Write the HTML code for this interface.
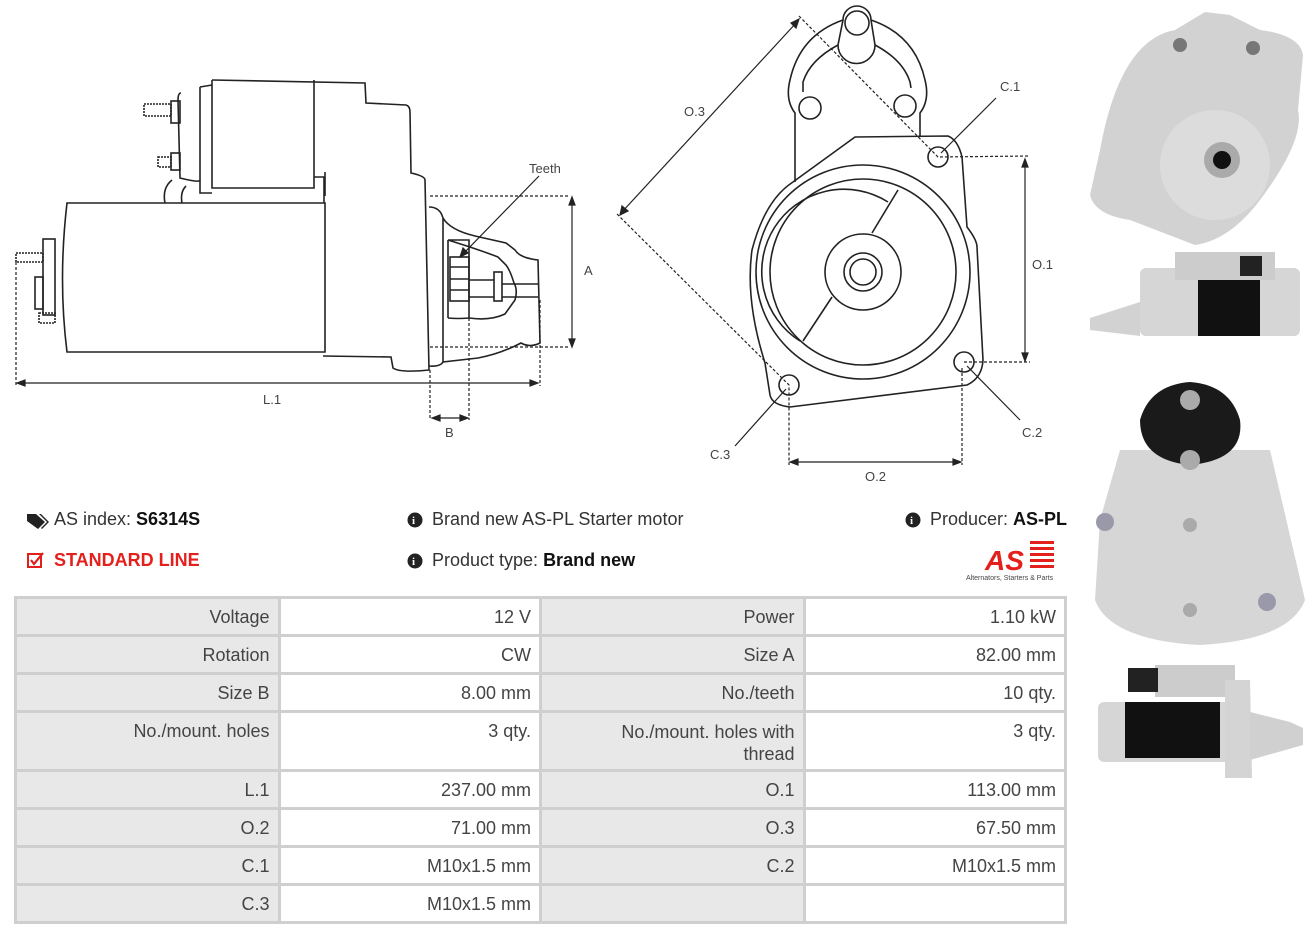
<!DOCTYPE html>
<html><head><meta charset="utf-8"><style>
*{margin:0;padding:0;box-sizing:border-box}
body{width:1316px;height:936px;background:#fff;font-family:"Liberation Sans",sans-serif;position:relative;overflow:hidden}
svg{position:absolute;left:0;top:0}
.t{position:absolute;font-size:18px;color:#333;white-space:nowrap}
.t b{color:#111}
table{position:absolute;left:14px;top:596px;border-collapse:collapse;width:1053px}
td{border:3px solid #cfcfcf;font-size:18px;color:#444;text-align:right;padding:8px 8px 0 8px;vertical-align:top;height:38px}
td.l{background:#e8e8e8;width:264px}
td.v{background:#fff;width:262px}
</style></head><body>
<svg width="1316" height="936" viewBox="0 0 1316 936" fill="none" stroke="#222" stroke-width="1.6">
<g>
<path d="M67 203 L325 203 L325 352 L67 352 Q58 280 67 203 Z"/>
<path d="M325 172 L325 196 M212 80 L365 83 L366 103 L406 105 Q410 106 410 112 L411 173 Q425 176 425 180 L429 370 Q400 373 393 368 L391 357 L323 356"/>
<path d="M212 80 L212 188 L314 188 L314 80"/>
<path d="M200 87 L200 193 L212 193 M200 87 L212 85"/>
<path d="M181 93 Q178 93 178 100 L180 178 Q200 183 200 180"/>
<path d="M314 177 L324 177 L324 203"/>
<path d="M165 203 Q162 188 172 180 M182 203 Q180 192 186 186"/>
<rect x="171" y="101" width="9" height="22"/><rect x="144" y="104" width="27" height="12" stroke-dasharray="2 1"/>
<rect x="171" y="153" width="9" height="17"/><rect x="158" y="157" width="13" height="10" stroke-dasharray="2 1"/>
<rect x="43" y="239" width="12" height="76"/><rect x="35" y="277" width="8" height="32"/>
<rect x="16" y="253" width="27" height="9" stroke-dasharray="2 1"/><rect x="39" y="313" width="16" height="10" stroke-dasharray="2 1"/>
<path d="M429 207 Q440 207 443 218 Q450 230 475 236 L506 243 Q510 246 515 250 Q520 258 538 260 L540 343 Q530 348 521 343 Q500 354 478 358 L443 362 Q440 367 429 366"/>
<path d="M443 218 L443 362"/>
<path d="M448 240 L469 240 L469 318 M448 240 L448 318 M448 318 Q458 319 469 318 Q490 321 505 314 L515 300 Q518 290 514 283 Q510 270 506 265 L498 257 Q480 250 448 240"/>
<rect x="450" y="257" width="19" height="44"/><path d="M450 267 L469 267 M450 279 L469 279 M450 290 L469 290"/>
<rect x="494" y="272" width="8" height="29"/><path d="M469 280 L494 280 M469 297 L494 297 M502 284 L538 284 M502 297 L538 297"/>
</g>
<g stroke-width="1.2" stroke-dasharray="3 2">
<path d="M430 196 L570 196 M430 347 L570 347 M16 262 L16 386 M540 300 L540 386 M430 370 L430 420 M469 318 L469 420"/>
</g>
<g stroke-width="1.2">
<path d="M20 383 L535 383 M572 200 L572 344 M435 418 L465 418"/>
<path d="M17 383 L25 380 L25 386Z M538 383 L530 380 L530 386Z M572 197 L569 205 L575 205Z M572 347 L569 339 L575 339Z M432 418 L440 415 L440 421Z M468 418 L460 415 L460 421Z" fill="#222"/>
<path d="M539 176 L462 255"/><path d="M460 257 L463 248 L468 253Z" fill="#222"/>
</g>
<g>
<path d="M795 182 L795 113 Q785 100 790 80 Q800 35 843 20 M871 20 Q915 35 925 80 Q930 100 920 113 L920 137"/>
<path d="M803 92 L803 82 Q810 60 838 45 M875 45 Q903 60 910 82 L911 88"/>
<path d="M843 20 A14 14 0 0 1 871 20 L875 45 A18 18 0 0 1 838 45 Z"/>
<circle cx="857" cy="23" r="12"/><circle cx="810" cy="108" r="11"/><circle cx="905" cy="106" r="11"/>
<path d="M793 182 L855 137 L948 136 Q958 140 962 157 L967 227 Q977 240 977 247 L983 360 Q982 378 967 385 L790 407 Q772 405 770 395 L765 363 Q745 300 752 250 Q765 200 793 182"/>
<circle cx="863" cy="272" r="107"/><circle cx="863" cy="272" r="93"/>
<path d="M800 341 A75 75 0 0 1 888 202"/>
<path d="M898 190 L872 233 M832 297 L803 341"/>
<circle cx="863" cy="272" r="38"/><circle cx="863" cy="272" r="19"/><circle cx="863" cy="272" r="13"/>
<circle cx="938" cy="157" r="10"/><circle cx="964" cy="362" r="10"/><circle cx="789" cy="385" r="10"/>
</g>
<g stroke-width="1.2" stroke-dasharray="3 2">
<path d="M799 16 L938 157 L1030 156 M617 214 L789 385 L789 465 M964 362 L1030 362 M962 368 L962 465"/>
</g>
<g stroke-width="1.2">
<path d="M622 212 L797 22 M1025 162 L1025 358 M793 462 L958 462"/>
<path d="M620 215 L622 206 L628 211Z M799 19 L791 23 L796 28Z M1025 159 L1022 167 L1028 167Z M1025 361 L1022 353 L1028 353Z M790 462 L798 459 L798 465Z M961 462 L953 459 L953 465Z" fill="#222"/>
<path d="M996 98 L941 153 M1020 420 L967 366 M735 446 L786 389"/>
</g>
<g fill="#444" stroke="none" font-family="Liberation Sans,sans-serif" font-size="13">
<text x="529" y="173">Teeth</text><text x="584" y="275">A</text><text x="263" y="404">L.1</text><text x="445" y="437">B</text>
<text x="684" y="116">O.3</text><text x="1000" y="91">C.1</text><text x="1032" y="269">O.1</text><text x="1022" y="437">C.2</text><text x="710" y="459">C.3</text><text x="865" y="481">O.2</text>
</g>
<g stroke="none">
<path d="M1100 150 Q1120 40 1175 30 L1205 12 L1230 15 L1260 30 Q1300 35 1303 55 L1298 110 Q1305 140 1260 200 Q1230 240 1195 245 L1130 220 Q1095 215 1090 195Z" fill="#d2d2d2"/>
<circle cx="1215" cy="165" r="55" fill="#dcdcdc"/><circle cx="1222" cy="160" r="18" fill="#aaa"/><circle cx="1222" cy="160" r="9" fill="#111"/>
<circle cx="1180" cy="45" r="7" fill="#777"/><circle cx="1253" cy="48" r="7" fill="#777"/>
<rect x="1140" y="268" width="160" height="68" rx="6" fill="#d6d6d6"/><rect x="1198" y="280" width="62" height="56" fill="#111"/>
<rect x="1175" y="252" width="100" height="28" fill="#cccccc"/><rect x="1240" y="256" width="22" height="20" fill="#222"/>
<path d="M1090 318 L1140 302 L1140 336 L1090 330Z" fill="#d2d2d2"/>
<path d="M1120 450 L1270 450 L1305 600 Q1290 640 1200 645 Q1110 640 1095 600 L1100 520Z" fill="#d6d6d6"/>
<path d="M1140 420 Q1150 385 1190 382 Q1230 385 1240 420 Q1245 460 1190 465 Q1140 460 1140 420Z" fill="#1a1a1a"/>
<circle cx="1190" cy="400" r="10" fill="#aaa"/><circle cx="1190" cy="460" r="10" fill="#aaa"/>
<circle cx="1105" cy="522" r="9" fill="#99a"/><circle cx="1267" cy="602" r="9" fill="#99a"/><circle cx="1190" cy="610" r="7" fill="#aaa"/><circle cx="1190" cy="525" r="7" fill="#aaa"/>
<rect x="1098" y="702" width="150" height="60" rx="6" fill="#d6d6d6"/><rect x="1125" y="702" width="95" height="56" fill="#111"/>
<rect x="1155" y="665" width="80" height="32" fill="#cccccc"/><rect x="1128" y="668" width="30" height="24" fill="#222"/>
<path d="M1225 680 L1250 680 L1252 778 L1225 778Z" fill="#d4d4d4"/><path d="M1250 712 L1290 722 L1303 728 L1303 745 L1250 760Z" fill="#d0d0d0"/>
</g>
<g stroke="none" fill="#222">
<path d="M27 514 L36 514 L45 522 L38 529 L27 521Z"/><path d="M39 514 L41 514 L49 522 L42 529 L41 528 L47 522Z"/>
<circle cx="415" cy="520" r="7.5"/><circle cx="415" cy="561" r="7.5"/><circle cx="913" cy="520" r="7.5"/>
</g>
<g fill="#fff" stroke="none" font-size="11" font-weight="bold" font-family="Liberation Serif,serif">
<text x="412" y="524">i</text><text x="412" y="565">i</text><text x="910" y="524">i</text>
</g>
<rect x="28" y="554" width="13" height="13" stroke="#e0201c" stroke-width="2"/>
<path d="M31 560 L34 564 L43 553" stroke="#e0201c" stroke-width="2.2"/>
<g stroke="none" fill="#e4201c">
<text x="985" y="570" font-size="28" font-weight="bold" font-style="italic" font-family="Liberation Sans,sans-serif">AS</text>
<rect x="1030" y="541" width="24" height="3"/><rect x="1030" y="547" width="24" height="3"/><rect x="1030" y="553" width="24" height="3"/><rect x="1030" y="559" width="24" height="3"/><rect x="1030" y="565" width="24" height="3"/>
</g>
<text x="966" y="580" font-size="7" fill="#444" stroke="none" font-family="Liberation Sans,sans-serif">Alternators, Starters &amp; Parts</text>
</svg>
<div class="t" style="left:54px;top:509px">AS index: <b>S6314S</b></div>
<div class="t" style="left:54px;top:550px;color:#e4201c;font-weight:bold">STANDARD LINE</div>
<div class="t" style="left:432px;top:509px">Brand new AS-PL Starter motor</div>
<div class="t" style="left:432px;top:550px">Product type: <b>Brand new</b></div>
<div class="t" style="left:930px;top:509px">Producer: <b>AS-PL</b></div>
<table>
<tr><td class="l">Voltage</td><td class="v">12 V</td><td class="l">Power</td><td class="v">1.10 kW</td></tr>
<tr><td class="l">Rotation</td><td class="v">CW</td><td class="l">Size A</td><td class="v">82.00 mm</td></tr>
<tr><td class="l">Size B</td><td class="v">8.00 mm</td><td class="l">No./teeth</td><td class="v">10 qty.</td></tr>
<tr><td class="l" style="height:59px">No./mount. holes</td><td class="v">3 qty.</td><td class="l" style="line-height:22px">No./mount. holes with<br>thread</td><td class="v">3 qty.</td></tr>
<tr><td class="l">L.1</td><td class="v">237.00 mm</td><td class="l">O.1</td><td class="v">113.00 mm</td></tr>
<tr><td class="l">O.2</td><td class="v">71.00 mm</td><td class="l">O.3</td><td class="v">67.50 mm</td></tr>
<tr><td class="l">C.1</td><td class="v">M10x1.5 mm</td><td class="l">C.2</td><td class="v">M10x1.5 mm</td></tr>
<tr><td class="l">C.3</td><td class="v">M10x1.5 mm</td><td class="l"></td><td class="v"></td></tr>
</table>
</body></html>
